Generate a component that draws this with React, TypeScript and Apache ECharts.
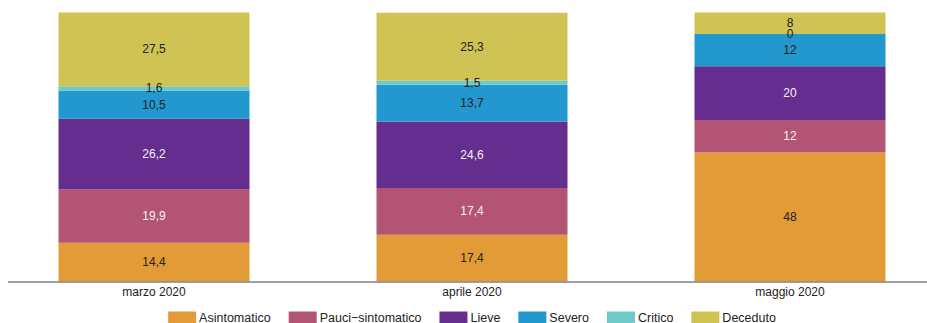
import React, { useEffect, useRef } from "react";
import * as echarts from "echarts";

const categories = ["marzo 2020", "aprile 2020", "maggio 2020"];
const seriesNames = ["Asintomatico", "Pauci\u2212sintomatico", "Lieve", "Severo", "Critico", "Deceduto"];
const asintomatico = [14.4, 17.4, 48];
const pauci = [19.9, 17.4, 12];
const lieve = [26.2, 24.6, 20];
const severo = [10.5, 13.7, 12];
const critico = [1.6, 1.5, 0];
const deceduto = [27.5, 25.3, 8];
const colors = ["#E39B37", "#B45475", "#652D8E", "#2398CF", "#6FC9C7", "#CFC354"];
const labelColors = ["#222", "#f2f2f2", "#f2f2f2", "#222", "#222", "#222"];

export default function App() {
  const ref = useRef<HTMLDivElement>(null);
  useEffect(() => {
    document.body.style.margin = "0";
    const chart = echarts.init(ref.current!, null, { renderer: "svg" });
    const data = [asintomatico, pauci, lieve, severo, critico, deceduto];
    chart.setOption({
      animation: false,
      textStyle: { fontFamily: "Liberation Sans, Arial, sans-serif" },
      color: colors,
      grid: { left: 0, right: 0, top: 12.5, bottom: 41.5, containLabel: false },
      legend: {
        top: 306,
        left: "center",
        itemWidth: 28,
        itemHeight: 12,
        itemGap: 18,
        icon: "rect",
        textStyle: { fontSize: 12.5, color: "#222", fontFamily: "Liberation Sans, Arial, sans-serif", padding: [0, 0, 0, -2] },
        data: seriesNames,
      },
      xAxis: {
        type: "category",
        data: categories,
        axisLine: { show: false },
        axisTick: { show: false },
        axisLabel: { fontSize: 12, color: "#222", margin: 4 },
      },
      yAxis: { type: "value", min: 0, max: 100, show: false },
      graphic: [
        {
          type: "line",
          shape: { x1: 13, y1: 282, x2: 932, y2: 282 },
          style: { stroke: "#808080", lineWidth: 1.5 },
          z: 100,
        },
      ],
      series: seriesNames.map((name, i) => ({
        name,
        type: "bar",
        stack: "total",
        barWidth: 191,
        data: data[i],
        itemStyle: { color: colors[i] },
        label: {
          show: true,
          position: "inside",
          fontSize: 12,
          color: labelColors[i],
          formatter: (p: any) => String(p.value).replace(".", ","),
        },
      })),
    });
    return () => chart.dispose();
  }, []);
  return (
    <div style={{ width: 927, height: 323, overflow: "hidden", position: "relative" }}>
      <div ref={ref} style={{ position: "absolute", left: -5, top: 0, width: 954, height: 323 }} />
    </div>
  );
}
